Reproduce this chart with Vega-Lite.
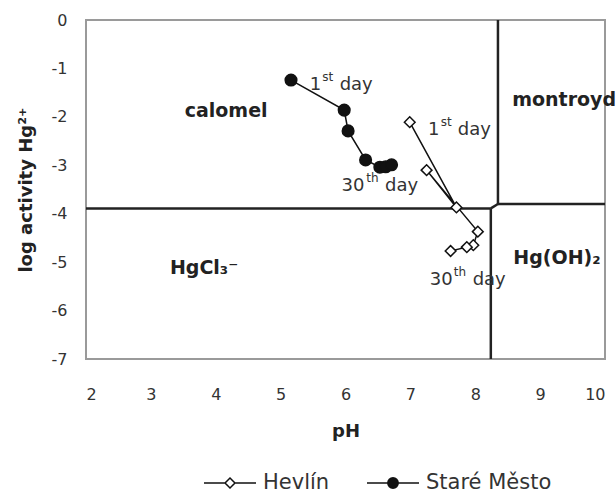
{
  "$schema": "https://vega.github.io/schema/vega-lite/v6.json",
  "autosize": "none",
  "width": 519,
  "height": 339,
  "padding": {"left": 86, "top": 20, "right": 11, "bottom": 134},
  "background": "white",
  "config": {
    "view": {"stroke": "#9a9a9a", "strokeWidth": 2},
    "font": "DejaVu Sans",
    "axis": {
      "grid": false,
      "domain": false,
      "ticks": false,
      "labelFont": "DejaVu Sans",
      "labelFontSize": 16,
      "labelColor": "#333333",
      "titleFont": "DejaVu Sans",
      "titleFontSize": 18,
      "titleFontWeight": "bold",
      "titleColor": "#222222"
    }
  },
  "datasets": {
    "series": [
      {"site": "Staré Město", "step": 1, "pH": 5.16, "logHg": -1.24},
      {"site": "Staré Město", "step": 2, "pH": 5.98, "logHg": -1.86},
      {"site": "Staré Město", "step": 3, "pH": 6.04, "logHg": -2.29},
      {"site": "Staré Město", "step": 4, "pH": 6.31, "logHg": -2.89},
      {"site": "Staré Město", "step": 5, "pH": 6.53, "logHg": -3.04},
      {"site": "Staré Město", "step": 6, "pH": 6.62, "logHg": -3.03},
      {"site": "Staré Město", "step": 7, "pH": 6.71, "logHg": -2.99},
      {"site": "Hevlín", "step": 1, "pH": 6.99, "logHg": -2.11},
      {"site": "Hevlín", "step": 2, "pH": 7.71, "logHg": -3.87},
      {"site": "Hevlín", "step": 3, "pH": 7.25, "logHg": -3.10},
      {"site": "Hevlín", "step": 4, "pH": 8.04, "logHg": -4.37},
      {"site": "Hevlín", "step": 5, "pH": 7.97, "logHg": -4.65},
      {"site": "Hevlín", "step": 6, "pH": 7.87, "logHg": -4.69},
      {"site": "Hevlín", "step": 7, "pH": 7.62, "logHg": -4.77}
    ],
    "boundaries": [
      {"x": 2, "x2": 8.24, "y": -3.89, "y2": -3.89},
      {"x": 8.35, "x2": 10, "y": -3.8, "y2": -3.8},
      {"x": 8.35, "x2": 8.35, "y": 0, "y2": -3.8},
      {"x": 8.24, "x2": 8.24, "y": -3.89, "y2": -7},
      {"x": 8.24, "x2": 8.35, "y": -3.89, "y2": -3.8}
    ],
    "fields": [
      {"label": "calomel", "pH": 4.16, "logHg": -1.88},
      {"label": "montroyd", "pH": 9.37, "logHg": -1.65},
      {"label": "Hg(OH)₂", "pH": 9.26, "logHg": -4.91},
      {"label": "HgCl₃⁻", "pH": 3.82, "logHg": -5.12}
    ],
    "dayText": [
      {"t": "1", "pH": 5.45, "logHg": -1.45},
      {"t": "day", "pH": 5.91, "logHg": -1.45},
      {"t": "1", "pH": 7.27, "logHg": -2.37},
      {"t": "day", "pH": 7.73, "logHg": -2.37},
      {"t": "30", "pH": 5.94, "logHg": -3.54},
      {"t": "day", "pH": 6.61, "logHg": -3.54},
      {"t": "30", "pH": 7.30, "logHg": -5.47},
      {"t": "day", "pH": 7.96, "logHg": -5.47}
    ],
    "daySup": [
      {"t": "st", "pH": 5.64, "logHg": -1.45},
      {"t": "st", "pH": 7.47, "logHg": -2.37},
      {"t": "th", "pH": 6.32, "logHg": -3.54},
      {"t": "th", "pH": 7.67, "logHg": -5.47}
    ]
  },
  "layer": [
    {
      "data": {"name": "boundaries"},
      "mark": {"type": "rule", "color": "#222222", "strokeWidth": 2.5},
      "encoding": {
        "x": {
          "field": "x", "type": "quantitative",
          "scale": {"domain": [2, 10], "nice": false, "zero": false},
          "axis": {"values": [2, 3, 4, 5, 6, 7, 8, 9, 10], "labelExpr": "'' + datum.value", "title": "pH", "labelPadding": 27, "titlePadding": 20}
        },
        "x2": {"field": "x2"},
        "y": {
          "field": "y", "type": "quantitative",
          "scale": {"domain": [-7, 0], "nice": false, "zero": false},
          "axis": {"values": [0, -1, -2, -3, -4, -5, -6, -7], "labelExpr": "'' + datum.value", "title": "log activity Hg²⁺", "labelPadding": 19, "titlePadding": 16}
        },
        "y2": {"field": "y2"}
      }
    },
    {
      "data": {"name": "series"},
      "mark": {"type": "line", "color": "#111111", "strokeWidth": 1.5},
      "encoding": {
        "x": {"field": "pH", "type": "quantitative"},
        "y": {"field": "logHg", "type": "quantitative"},
        "detail": {"field": "site"},
        "order": {"field": "step"}
      }
    },
    {
      "data": {"name": "series"},
      "mark": {"type": "point", "stroke": "#111111", "strokeWidth": 1.5, "opacity": 1},
      "encoding": {
        "x": {"field": "pH", "type": "quantitative"},
        "y": {"field": "logHg", "type": "quantitative"},
        "shape": {
          "field": "site", "type": "nominal",
          "scale": {"domain": ["Hevlín", "Staré Město"], "range": ["diamond", "circle"]},
          "legend": null
        },
        "fill": {
          "field": "site", "type": "nominal",
          "scale": {"domain": ["Hevlín", "Staré Město"], "range": ["#ffffff", "#111111"]},
          "legend": null
        },
        "size": {
          "field": "site", "type": "nominal",
          "scale": {"domain": ["Hevlín", "Staré Město"], "range": [115, 135]},
          "legend": null
        }
      }
    },
    {
      "data": {"name": "series"},
      "mark": {"type": "point", "filled": false, "color": "#111111", "strokeWidth": 1.5, "opacity": 0, "size": 2704},
      "encoding": {
        "x": {"field": "pH", "type": "quantitative"},
        "y": {"field": "logHg", "type": "quantitative"},
        "shape": {
          "field": "site", "type": "nominal",
          "scale": {
            "domain": ["Hevlín", "Staré Město"],
            "range": [
              "M-1,0H-0.19M0.19,0H1M0,-0.19L0.19,0L0,0.19L-0.19,0Z",
              "M-1,0H-0.2M0.2,0H1M-0.2,0A0.2,0.2 0 1,0 0.2,0A0.2,0.2 0 1,0 -0.2,0ZM-0.145,0A0.145,0.145 0 1,0 0.145,0A0.145,0.145 0 1,0 -0.145,0ZM-0.09,0A0.09,0.09 0 1,0 0.09,0A0.09,0.09 0 1,0 -0.09,0ZM-0.035,0A0.035,0.035 0 1,0 0.035,0A0.035,0.035 0 1,0 -0.035,0Z"
            ]
          },
          "legend": {
            "title": null,
            "orient": "none",
            "direction": "horizontal",
            "legendX": 117,
            "legendY": 436,
            "padding": 0,
            "symbolSize": 2704,
            "symbolOpacity": 1,
            "symbolFillColor": "#ffffff",
            "symbolStrokeColor": "#111111",
            "symbolStrokeWidth": 1.5,
            "labelFont": "DejaVu Sans",
            "labelFontSize": 21,
            "labelColor": "#333333",
            "labelOffset": 6,
            "columnPadding": 34
          }
        }
      }
    },
    {
      "data": {"name": "fields"},
      "mark": {"type": "text", "fontWeight": "bold", "fontSize": 19, "color": "#222222", "align": "center", "baseline": "middle"},
      "encoding": {
        "x": {"field": "pH", "type": "quantitative"},
        "y": {"field": "logHg", "type": "quantitative"},
        "text": {"field": "label"}
      }
    },
    {
      "data": {"name": "dayText"},
      "mark": {"type": "text", "fontSize": 18, "color": "#333333", "align": "left", "baseline": "alphabetic"},
      "encoding": {
        "x": {"field": "pH", "type": "quantitative"},
        "y": {"field": "logHg", "type": "quantitative"},
        "text": {"field": "t"}
      }
    },
    {
      "data": {"name": "daySup"},
      "mark": {"type": "text", "fontSize": 12, "color": "#333333", "align": "left", "baseline": "alphabetic", "dy": -9},
      "encoding": {
        "x": {"field": "pH", "type": "quantitative"},
        "y": {"field": "logHg", "type": "quantitative"},
        "text": {"field": "t"}
      }
    }
  ],
  "resolve": {"scale": {"shape": "independent", "size": "independent"}}
}
